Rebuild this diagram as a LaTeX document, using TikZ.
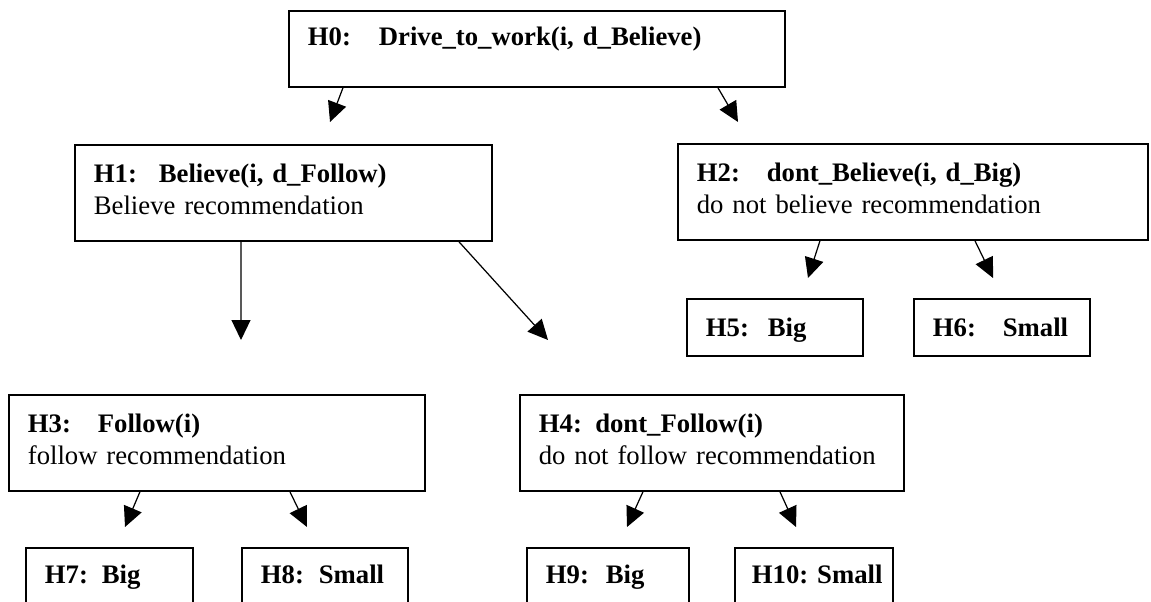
\documentclass[tikz,border=0pt]{standalone}
\usepackage{fontspec}
\setmainfont{Liberation Serif}
\usetikzlibrary{arrows.meta, positioning, calc}

\newcommand{\hyplab}[2][1.3cm]{\makebox[#1][l]{#2}}

\begin{document}
\begin{tikzpicture}[x=0.02cm, y=-0.02cm,
  hbox/.style={rectangle, draw=black, line width=1pt, anchor=north west,
               inner xsep=0.38cm, inner ysep=0pt, align=left, text height=0.76cm,
               font=\fontsize{15.2pt}{18.2pt}\selectfont},
  two/.style={text depth=1.16cm},
  one/.style={text depth=0.38cm},
  low/.style={text height=0.72cm, text depth=1.2cm},
  arr/.style={-{Triangle[length=0.4cm, width=0.38cm]}, line width=0.7pt}]

  \useasboundingbox (0,0) rectangle (1151,601);

  \node[hbox, text width=9.16cm, text height=0.7cm, text depth=0.82cm] (h0) at (288,10)
    {\textbf{\hyplab[1.42cm]{H0:}Drive\_to\_work(i, d\_Believe)}};

  \node[hbox, two, text width=7.58cm] (h1) at (74,144)
    {\textbf{\hyplab{H1:}Believe(i, d\_Follow)}\\Believe recommendation};

  \node[hbox, two, text width=8.64cm] (h2) at (677,143)
    {\textbf{\hyplab[1.4cm]{H2:}dont\_Believe(i, d\_Big)}\\do not believe recommendation};

  \node[hbox, two, text width=7.56cm] (h3) at (8,394)
    {\textbf{\hyplab[1.4cm]{H3:}Follow(i)}\\follow recommendation};

  \node[hbox, two, text width=6.92cm] (h4) at (519,394)
    {\textbf{H4: dont\_Follow(i)}\\do not follow recommendation};

  \node[hbox, one, text width=2.76cm] (h5) at (686,298) {\textbf{\hyplab[1.24cm]{H5:}Big}};
  \node[hbox, one, text width=2.76cm] (h6) at (913,298) {\textbf{\hyplab[1.4cm]{H6:}Small}};

  \node[hbox, low, text width=2.58cm] (h7) at (25,547)  {\textbf{\hyplab[1.14cm]{H7:}Big}};
  \node[hbox, low, text width=2.56cm] (h8) at (241,547) {\textbf{\hyplab[1.16cm]{H8:}Small}};
  \node[hbox, low, text width=2.48cm] (h9) at (526,547) {\textbf{\hyplab[1.2cm]{H9:}Big}};
  \node[hbox, low, inner xsep=0.34cm, text width=2.48cm] (h10) at (734,547) {\textbf{H10:~Small}};

  \coordinate (t1) at (330,122);
  \coordinate (t2) at (738,122);
  \coordinate (t3) at (241,340);
  \coordinate (t4) at (548,340);
  \coordinate (t5) at (808,278);
  \coordinate (t6) at (993,278);
  \coordinate (t7) at (125,527);
  \coordinate (t8) at (307,527);
  \coordinate (t9) at (627,527);
  \coordinate (t10) at (796,527);

  \draw[arr] ([xshift=1.1cm]h0.south west)  -- (t1);
  \draw[arr] ([xshift=8.6cm]h0.south west)  -- (t2);
  \draw[arr] ([xshift=3.34cm]h1.south west) -- (t3);
  \draw[arr] ([xshift=7.7cm]h1.south west)  -- (t4);
  \draw[arr] ([xshift=2.86cm]h2.south west) -- (t5);
  \draw[arr] ([xshift=5.96cm]h2.south west) -- (t6);
  \draw[arr] ([xshift=2.64cm]h3.south west) -- (t7);
  \draw[arr] ([xshift=5.64cm]h3.south west) -- (t8);
  \draw[arr] ([xshift=2.48cm]h4.south west) -- (t9);
  \draw[arr] ([xshift=5.22cm]h4.south west) -- (t10);

\end{tikzpicture}
\end{document}
